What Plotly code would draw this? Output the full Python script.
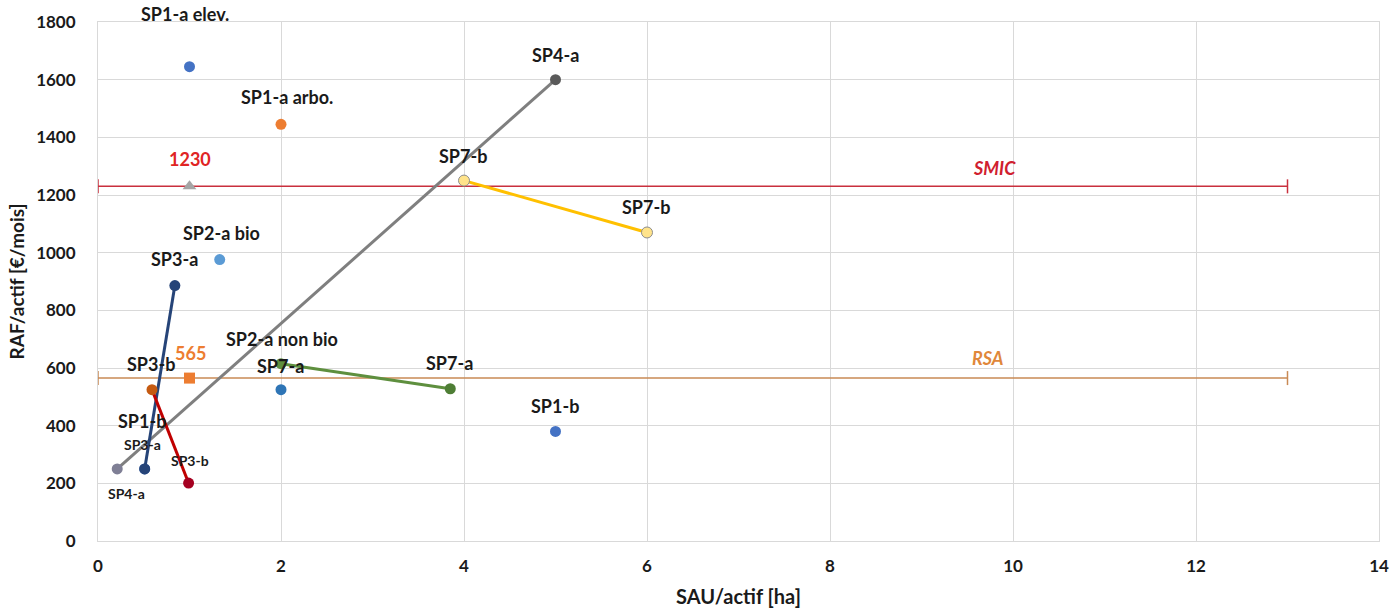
import plotly.graph_objects as go

# SAU per worker (ha) vs. RAF per worker (EUR/month) for each farm system
sp1a_elev_x, sp1a_elev_y = [1.0], [1645]
sp1a_arbo_x, sp1a_arbo_y = [2.0], [1445]
sp2a_bio_x, sp2a_bio_y = [1.33], [976]
sp2a_nonbio_x, sp2a_nonbio_y = [2.0], [525]
sp1b_x, sp1b_y = [0.51, 5.0], [250, 380]
sp3a_x, sp3a_y = [0.84, 0.51], [886, 250]
sp3b_x, sp3b_y = [0.59, 0.99], [525, 201]
sp4a_x, sp4a_y = [0.21, 5.0], [250, 1600]
sp7a_x, sp7a_y = [2.0, 3.85], [615, 528]
sp7b_x, sp7b_y = [4.0, 6.0], [1250, 1070]

# Reference incomes
smic_value = 1230
rsa_value = 565
ref_x = [1.0]
threshold_x = [0, 13]

x_ticks = [0, 2, 4, 6, 8, 10, 12, 14]
y_ticks = [0, 200, 400, 600, 800, 1000, 1200, 1400, 1600, 1800]

FONT = "Lato"
fig = go.Figure()


def add_line(x, y, line_color, marker_colors, outline=None, width=3):
    fig.add_trace(go.Scatter(
        x=x, y=y, mode="lines+markers",
        line=dict(color=line_color, width=width),
        marker=dict(size=11, color=marker_colors,
                    line=dict(color=outline or "rgba(0,0,0,0)", width=1 if outline else 0)),
        showlegend=False, hoverinfo="x+y"))


def add_points(x, y, color, symbol="circle", size=11):
    fig.add_trace(go.Scatter(
        x=x, y=y, mode="markers",
        marker=dict(size=size, color=color, symbol=symbol),
        showlegend=False, hoverinfo="x+y"))


# Threshold lines with end caps
for val, col in [(smic_value, "#C9303E"), (rsa_value, "#C98A55")]:
    fig.add_trace(go.Scatter(
        x=threshold_x, y=[val, val], mode="lines+markers",
        line=dict(color=col, width=1.5),
        marker=dict(symbol="line-ns", size=10, line=dict(color=col, width=1.5)),
        showlegend=False, hoverinfo="skip"))

# Reference markers
add_points(ref_x, [smic_value], "#A5A5A5", symbol="triangle-up", size=12)
add_points(ref_x, [rsa_value], "#ED7D31", symbol="square", size=11)

# Single points
add_points(sp1b_x, sp1b_y, "#4472C4")
add_points(sp1a_elev_x, sp1a_elev_y, "#4472C4")
add_points(sp1a_arbo_x, sp1a_arbo_y, "#ED7D31")
add_points(sp2a_bio_x, sp2a_bio_y, "#5B9BD5")
add_points(sp2a_nonbio_x, sp2a_nonbio_y, "#2E75B6")

# Connected pairs
add_line(sp4a_x, sp4a_y, "#7F7F7F", ["#7F7F95", "#5A5A5A"])
add_line(sp3a_x, sp3a_y, "#264478", ["#264478", "#264478"])
add_line(sp3b_x, sp3b_y, "#C00000", ["#C55A11", "#A50021"])
add_line(sp7a_x, sp7a_y, "#5E8F3E", ["#5E8F3E", "#4E7E35"])
add_line(sp7b_x, sp7b_y, "#FFC000", ["#FFE38A", "#FFE38A"], outline="#8C8C8C")

# Data labels: (text, x, y, pixel dx, pixel dy, font size, colour)
BIG, SMALL = 18, 14
labels = [
    ("SP1-a elev.", sp1a_elev_x[0], sp1a_elev_y[0], -5, 53, BIG, "#1A1A1A"),
    ("SP1-a arbo.", sp1a_arbo_x[0], sp1a_arbo_y[0], 6, 27, BIG, "#1A1A1A"),
    ("SP4-a", sp4a_x[1], sp4a_y[1], 0, 25, BIG, "#1A1A1A"),
    ("SP4-a", sp4a_x[0], sp4a_y[0], 9, -25, SMALL, "#1A1A1A"),
    ("SP7-b", sp7b_x[0], sp7b_y[0], -1, 25, BIG, "#1A1A1A"),
    ("SP7-b", sp7b_x[1], sp7b_y[1], -1, 25, BIG, "#1A1A1A"),
    ("SP2-a bio", sp2a_bio_x[0], sp2a_bio_y[0], 2, 27, BIG, "#1A1A1A"),
    ("SP3-a", sp3a_x[0], sp3a_y[0], 0, 27, BIG, "#1A1A1A"),
    ("SP3-a", sp3a_x[1], sp3a_y[1], -2, 24, SMALL, "#1A1A1A"),
    ("SP2-a non bio", sp2a_nonbio_x[0], sp2a_nonbio_y[0], 1, 51, BIG, "#1A1A1A"),
    ("SP7-a", sp7a_x[0], sp7a_y[0], -1, -2, BIG, "#1A1A1A"),
    ("SP7-a", sp7a_x[1], sp7a_y[1], -1, 26, BIG, "#1A1A1A"),
    ("SP3-b", sp3b_x[0], sp3b_y[0], -1, 26, BIG, "#1A1A1A"),
    ("SP3-b", sp3b_x[1], sp3b_y[1], 1, 23, SMALL, "#1A1A1A"),
    ("SP1-b", sp1b_x[0], sp1b_y[0], -3, 48, BIG, "#1A1A1A"),
    ("SP1-b", sp1b_x[1], sp1b_y[1], -1, 25, BIG, "#1A1A1A"),
    (str(smic_value), ref_x[0], smic_value, 0, 27, BIG, "#E02424"),
    (str(rsa_value), ref_x[0], rsa_value, 1, 25, BIG, "#ED7D31"),
]
for text, x, y, dx, dy, size, col in labels:
    fig.add_annotation(x=x, y=y, text=f"<b>{text}</b>", showarrow=False,
                       xshift=dx, yshift=dy,
                       font=dict(family=FONT, size=size, color=col))

fig.add_annotation(x=9.8, y=smic_value, text="<b><i>SMIC</i></b>", showarrow=False,
                   yshift=18, font=dict(family=FONT, size=18, color="#D0202E"))
fig.add_annotation(x=9.73, y=rsa_value, text="<b><i>RSA</i></b>", showarrow=False,
                   yshift=20, font=dict(family=FONT, size=18, color="#E0873A"))

fig.update_layout(
    width=1391, height=608,
    margin=dict(l=98, r=12, t=22, b=67),
    plot_bgcolor="white", paper_bgcolor="white",
    font=dict(family=FONT, color="#1A1A1A"),
    xaxis=dict(range=[0, 14], tickvals=x_ticks, ticktext=[f"<b>{v}</b>" for v in x_ticks],
               showgrid=True, gridcolor="#D9D9D9", gridwidth=1, automargin=False,
               showline=True, linecolor="#D9D9D9", mirror=True, zeroline=False,
               ticks="", ticklabelstandoff=10, tickfont=dict(size=17),
               title=dict(text="<b>SAU/actif [ha]</b>", font=dict(size=20), standoff=14)),
    yaxis=dict(range=[0, 1800], tickvals=y_ticks, ticktext=[f"<b>{v}</b>" for v in y_ticks],
               showgrid=True, gridcolor="#D9D9D9", gridwidth=1, automargin=False,
               showline=True, linecolor="#D9D9D9", mirror=True, zeroline=False,
               ticks="", ticklabelstandoff=18, tickfont=dict(size=17),
               title=dict(text="<b>RAF/actif [€/mois]</b>", font=dict(size=19), standoff=6)),
)

fig.write_html("out.html")
